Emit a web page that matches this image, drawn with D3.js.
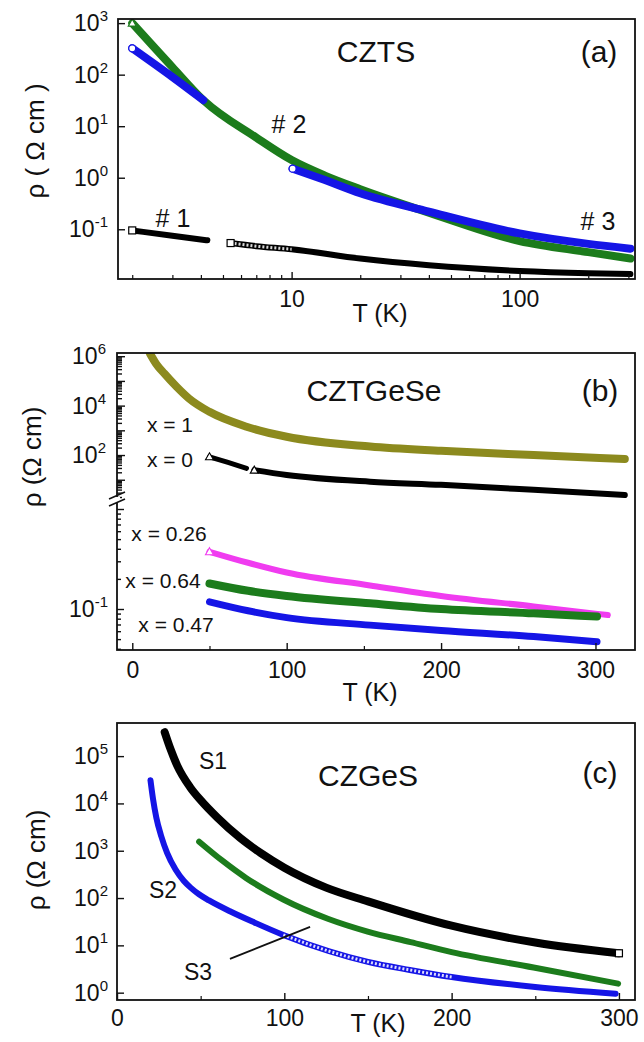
<!DOCTYPE html>
<html>
<head>
<meta charset="utf-8">
<script src="https://d3js.org/d3.v7.min.js"></script>
<style>
body { margin: 0; background: #fff; }
text { font-family: Arial, "Liberation Sans", sans-serif; fill: #111; }
</style>
</head>
<body>
<svg id="fig" width="644" height="1042"></svg>
<script>
// ---- panel (a) CZTS, log-log ----
var czts1a_T = [2.0, 3.0, 4.27];
var czts1a_rho = [0.095, 0.075, 0.061];
var czts1b_T = [5.4, 7, 10, 20, 40, 100, 200, 306];
var czts1b_rho = [0.054, 0.047, 0.041, 0.027, 0.020, 0.0155, 0.014, 0.0135];
var czts1b_open = [5.4, 10];
var czts2_T = [2.0, 3.0, 4.1, 7.0, 10, 14, 20, 40, 100, 200, 306];
var czts2_rho = [1000, 140, 32, 6, 2.2, 1.1, 0.6, 0.21, 0.059, 0.036, 0.027];
var czts3a_T = [2.0, 3.0, 4.1];
var czts3a_rho = [325, 90, 32];
var czts3b_T = [10.1, 14, 20, 40, 100, 200, 306];
var czts3b_rho = [1.5, 0.9, 0.5, 0.22, 0.083, 0.052, 0.042];
var ticksA_y = [-1, 0, 1, 2, 3];
var ticksA_x = [10, 100];
var minorA_x = [2, 3, 4, 5, 6, 7, 8, 9, 20, 30, 40, 50, 60, 70, 80, 90, 200, 300];

// ---- panel (b) CZTGeSe, broken log axis ----
var geseX1_T = [11.4, 15.4, 20.7, 28.7, 36.7, 50, 74, 100, 154, 200, 260, 319];
var geseX1_rho = [1.3e6, 5.0e5, 2.0e5, 5.8e4, 1.95e4, 5.6e3, 1.4e3, 550, 220, 148, 100, 69];
var geseX0a_T = [50, 62, 74];
var geseX0a_rho = [85, 50, 29];
var geseX0b_T = [79, 100, 154, 200, 260, 319];
var geseX0b_rho = [24.5, 15.5, 8.3, 6.2, 3.9, 2.4];
var geseX026_T = [50, 75, 100, 154, 200, 260, 308];
var geseX026_rho = [0.374, 0.29, 0.232, 0.172, 0.135, 0.106, 0.087];
var geseX064_T = [50, 75, 100, 154, 200, 260, 301];
var geseX064_rho = [0.18, 0.152, 0.135, 0.114, 0.10, 0.0905, 0.084];
var geseX047_T = [50, 75, 100, 154, 200, 260, 301];
var geseX047_rho = [0.118, 0.096, 0.082, 0.069, 0.061, 0.053, 0.047];
var ticksB_x = [0, 100, 200, 300];
var minorB_x = [50, 150, 250];
var ticksB_yUp = [2, 4, 6];
var ticksB_yLow = [-1];

// ---- panel (c) CZGeS ----
var czgesS1_T = [28.5, 32, 36, 43.7, 50, 60, 73.6, 86, 100, 125, 150, 200, 250, 300];
var czgesS1_rho = [3.2e5, 1.4e5, 6.3e4, 2.2e4, 1.17e4, 5.0e3, 1.86e3, 890, 437, 166, 85, 26, 11.5, 6.8];
var czgesS2_T = [20, 21.5, 23.5, 26.5, 30, 35, 40, 44, 49, 55, 67.5, 82.3, 99.4, 126.4, 150, 175, 200, 250, 298];
var czgesS2_rho = [3.1e4, 1.26e4, 5.0e3, 2.0e3, 890, 400, 229, 166, 120, 89, 52.5, 30.2, 16.6, 7.6, 4.47, 3.02, 2.14, 1.32, 0.95];
var czgesS2_open = [95, 215];
var czgesS3_T = [49.1, 62.6, 77.3, 99.4, 126.4, 149.8, 175.5, 200, 249, 299.5];
var czgesS3_rho = [1550, 630, 263, 93, 36, 19.5, 11.7, 7.2, 3.4, 1.55];
var ticksC_x = [0, 100, 200, 300];
var minorC_x = [50, 150, 250];
var ticksC_y = [0, 1, 2, 3, 4, 5];

var green = "#1c7c1c", blue = "#1515e6", olive = "#8c8a1e", magenta = "#f03cf0";

var svg = d3.select("#fig");
svg.append("rect").attr("width", 644).attr("height", 1042).attr("fill", "#fff");

function pairs(T, r) { return d3.zip(T, r); }

function drawSeries(g, x, y, data, color, width) {
  var line = d3.line()
      .x(function(d){ return x(d[0]); })
      .y(function(d){ return y(d[1]); })
      .curve(d3.curveMonotoneX);
  return g.append("path")
    .datum(data)
    .attr("d", line)
    .attr("fill", "none")
    .attr("stroke", color)
    .attr("stroke-width", width)
    .attr("stroke-linecap", "round");
}

// hollow-marker stretch: dashed white core over a part of a series
function hollow(g, x, y, data, range, width) {
  var sub = data.filter(function(d){ return d[0] >= range[0] && d[0] <= range[1]; });
  drawSeries(g, x, y, sub, "#fff", width)
    .attr("stroke-linecap", "butt")
    .attr("stroke-dasharray", "2,2")
    .attr("opacity", 0.85);
}

function marker(g, px, py, shape, color) {
  if (shape == "circle") {
    g.append("circle").attr("cx", px).attr("cy", py).attr("r", 3.5)
      .attr("fill", "#fff").attr("stroke", color).attr("stroke-width", 1.3);
  } else if (shape == "square") {
    g.append("rect").attr("x", px - 3.5).attr("y", py - 3.5).attr("width", 7).attr("height", 7)
      .attr("fill", "#fff").attr("stroke", color).attr("stroke-width", 1.2);
  } else {
    g.append("path").attr("d", "M" + px + "," + (py - 4) + "L" + (px + 4) + "," + (py + 3) + "L" + (px - 4) + "," + (py + 3) + "Z")
      .attr("fill", "#fff").attr("stroke", color).attr("stroke-width", 1.1);
  }
}

function yLabel10(g, xPos, yPos, exp) {
  var t = g.append("text")
    .attr("x", xPos)
    .attr("y", yPos + 8)
    .attr("text-anchor", "end")
    .style("font-size", "23px");
  t.append("tspan").text("10");
  t.append("tspan").attr("dy", -10).style("font-size", "15px").text(exp);
}

function frame(g, box) {
  g.append("rect")
    .attr("x", box.left).attr("y", box.top)
    .attr("width", box.right - box.left).attr("height", box.bottom - box.top)
    .attr("fill", "none").attr("stroke", "#111").attr("stroke-width", 1.8);
}

function xAxis(g, x, box, major, minor, fmt, pad) {
  var ax = g.append("g").attr("transform", "translate(0," + box.bottom + ")")
    .call(d3.axisBottom(x).tickValues(major).tickSize(-7).tickPadding(pad).tickFormat(fmt));
  ax.select(".domain").remove();
  ax.selectAll("line").attr("stroke", "#111").attr("stroke-width", 1.4);
  ax.selectAll("text").style("font-size", "23px").style("font-family", "Arial, 'Liberation Sans', sans-serif").attr("fill", "#111");
  var mn = g.append("g").attr("transform", "translate(0," + box.bottom + ")")
    .call(d3.axisBottom(x).tickValues(minor).tickSize(-4).tickFormat(""));
  mn.select(".domain").remove();
  mn.selectAll("line").attr("stroke", "#111").attr("stroke-width", 1.2);
}

function yTicks(g, y, box, values, size) {
  var ax = g.append("g").attr("transform", "translate(" + box.left + ",0)")
    .call(d3.axisLeft(y).tickValues(values).tickSize(-size).tickFormat(""));
  ax.select(".domain").remove();
  ax.selectAll("line").attr("stroke", "#111").attr("stroke-width", 1.4);
}

function clip(id, box) {
  svg.append("clipPath").attr("id", id).append("rect")
    .attr("x", box.left).attr("y", box.top)
    .attr("width", box.right - box.left).attr("height", box.bottom - box.top);
}

function rotLabel(text, xPos, yPos) {
  svg.append("text")
    .attr("transform", "translate(" + xPos + "," + yPos + ") rotate(-90)")
    .attr("text-anchor", "middle")
    .style("font-size", "26px")
    .text(text);
}

function label(text, xPos, yPos, size) {
  svg.append("text").attr("x", xPos).attr("y", yPos)
    .attr("text-anchor", "middle").style("font-size", size + "px").text(text);
}

// ================= panel (a) =================
var boxA = {left: 118, right: 635, top: 19, bottom: 279};
var xA = d3.scaleLog().domain([Math.pow(10, 0.2386), Math.pow(10, 2.506)]).range([boxA.left, boxA.right]);
var yA = d3.scaleLog().domain([Math.pow(10, -1.965), Math.pow(10, 3.08)]).range([boxA.bottom, boxA.top]);
clip("clipA", boxA);
var gA = svg.append("g");
var plotA = gA.append("g").attr("clip-path", "url(#clipA)");

drawSeries(plotA, xA, yA, pairs(czts1a_T, czts1a_rho), "#000", 6);
drawSeries(plotA, xA, yA, pairs(czts1b_T, czts1b_rho), "#000", 6);
hollow(plotA, xA, yA, pairs(czts1b_T, czts1b_rho), czts1b_open, 3);
drawSeries(plotA, xA, yA, pairs(czts2_T, czts2_rho), green, 8);
drawSeries(plotA, xA, yA, pairs(czts3a_T, czts3a_rho), blue, 8);
drawSeries(plotA, xA, yA, pairs(czts3b_T, czts3b_rho), blue, 8);
marker(plotA, xA(czts1a_T[0]), yA(czts1a_rho[0]), "square", "#000");
marker(plotA, xA(czts1b_T[0]), yA(czts1b_rho[0]), "square", "#000");
marker(plotA, xA(czts2_T[0]), yA(czts2_rho[0]), "triangle", green);
marker(plotA, xA(czts3a_T[0]), yA(czts3a_rho[0]), "circle", blue);
marker(plotA, xA(czts3b_T[0]), yA(czts3b_rho[0]), "circle", blue);

frame(gA, boxA);
xAxis(gA, xA, boxA, ticksA_x, minorA_x, d3.format("d"), 12);
yTicks(gA, yA, boxA, ticksA_y.map(function(e){ return Math.pow(10, e); }), 7);
ticksA_y.forEach(function(e){ yLabel10(gA, 108, yA(Math.pow(10, e)), e); });

label("CZTS", 376, 62, 30);
label("(a)", 599, 62, 30);
label("# 2", 289, 133, 25);
label("# 1", 173, 227, 25);
label("# 3", 598, 230, 25);
label("T (K)", 380, 322, 25);
rotLabel("\u03C1 ( \u03A9 cm )", 44, 141);

// ================= panel (b) =================
var boxB = {left: 117, right: 635, top: 353, bottom: 650};
var breakY = 500;
var xB = d3.scaleLinear().domain([-9.9, 325.6]).range([boxB.left, boxB.right]);
var yBup = d3.scaleLog().domain([Math.pow(10, 0.18), Math.pow(10, 6.13)]).range([breakY, boxB.top]);
var yBlow = d3.scaleLog().domain([Math.pow(10, -1.41), Math.pow(10, 0.09)]).range([boxB.bottom, breakY]);
clip("clipB", boxB);
var gB = svg.append("g");
var plotB = gB.append("g").attr("clip-path", "url(#clipB)");

drawSeries(plotB, xB, yBup, pairs(geseX1_T, geseX1_rho), olive, 8);
drawSeries(plotB, xB, yBup, pairs(geseX0a_T, geseX0a_rho), "#000", 5);
drawSeries(plotB, xB, yBup, pairs(geseX0b_T, geseX0b_rho), "#000", 6);
drawSeries(plotB, xB, yBlow, pairs(geseX026_T, geseX026_rho), magenta, 6);
drawSeries(plotB, xB, yBlow, pairs(geseX064_T, geseX064_rho), green, 8);
drawSeries(plotB, xB, yBlow, pairs(geseX047_T, geseX047_rho), blue, 7);
marker(plotB, xB(geseX0a_T[0]), yBup(geseX0a_rho[0]), "triangle", "#000");
marker(plotB, xB(geseX0b_T[0]), yBup(geseX0b_rho[0]), "triangle", "#000");
marker(plotB, xB(geseX026_T[0]), yBlow(geseX026_rho[0]), "triangle", magenta);

frame(gB, boxB);
xAxis(gB, xB, boxB, ticksB_x, minorB_x, d3.format("d"), 12);

// upper part ticks: every decade plus minor
var upMajor = [], upMinor = [];
d3.range(0, 7).forEach(function(e){
  upMajor.push(Math.pow(10, e));
  d3.range(2, 10).forEach(function(m){ upMinor.push(m * Math.pow(10, e)); });
});
upMajor = upMajor.filter(function(v){ return v >= yBup.domain()[0] && v <= yBup.domain()[1]; });
upMinor = upMinor.filter(function(v){ return v >= yBup.domain()[0] && v <= yBup.domain()[1]; });
yTicks(gB, yBup, boxB, upMajor, 8);
yTicks(gB, yBup, boxB, upMinor, 5);
var lowMajor = [0.1, 1], lowMinor = [];
[0.01, 0.1].forEach(function(b){ d3.range(2, 10).forEach(function(m){ lowMinor.push(m * b); }); });
lowMinor = lowMinor.filter(function(v){ return v >= yBlow.domain()[0] && v <= yBlow.domain()[1]; });
yTicks(gB, yBlow, boxB, lowMajor, 7);
yTicks(gB, yBlow, boxB, lowMinor, 4);
ticksB_yUp.forEach(function(e){ yLabel10(gB, 106, yBup(Math.pow(10, e)), e); });
ticksB_yLow.forEach(function(e){ yLabel10(gB, 108, yBlow(Math.pow(10, e)), e); });

// axis break
gB.append("rect").attr("x", boxB.left - 3).attr("y", breakY - 3).attr("width", 6).attr("height", 6).attr("fill", "#fff");
gB.append("line").attr("x1", boxB.left - 8).attr("y1", breakY - 1).attr("x2", boxB.left + 8).attr("y2", breakY - 8)
  .attr("stroke", "#111").attr("stroke-width", 1.6);
gB.append("line").attr("x1", boxB.left - 8).attr("y1", breakY + 6).attr("x2", boxB.left + 8).attr("y2", breakY - 1)
  .attr("stroke", "#111").attr("stroke-width", 1.6);

label("CZTGeSe", 374, 401, 30);
label("(b)", 600, 401, 30);
label("x = 1", 170, 432, 21);
label("x = 0", 170, 467, 21);
label("x = 0.26", 169, 541, 21);
label("x = 0.64", 163, 588, 21);
label("x = 0.47", 176, 632, 21);
label("T (K)", 370, 701, 25);
rotLabel("\u03C1 (\u03A9 cm)", 41, 457);

// ================= panel (c) =================
var boxC = {left: 117, right: 635, top: 723, bottom: 1000};
var xC = d3.scaleLinear().domain([0, 309.6]).range([boxC.left, boxC.right]);
var yC = d3.scaleLog().domain([Math.pow(10, -0.155), Math.pow(10, 5.70)]).range([boxC.bottom, boxC.top]);
clip("clipC", boxC);
var gC = svg.append("g");
var plotC = gC.append("g").attr("clip-path", "url(#clipC)");

drawSeries(plotC, xC, yC, pairs(czgesS1_T, czgesS1_rho), "#000", 8);
drawSeries(plotC, xC, yC, pairs(czgesS3_T, czgesS3_rho), green, 6);
drawSeries(plotC, xC, yC, pairs(czgesS2_T, czgesS2_rho), blue, 6);
hollow(plotC, xC, yC, pairs(czgesS2_T, czgesS2_rho), czgesS2_open, 3);
marker(plotC, xC(czgesS1_T[czgesS1_T.length - 1]), yC(czgesS1_rho[czgesS1_rho.length - 1]), "square", "#000");

frame(gC, boxC);
xAxis(gC, xC, boxC, ticksC_x, minorC_x, d3.format("d"), 10);
yTicks(gC, yC, boxC, ticksC_y.map(function(e){ return Math.pow(10, e); }), 7);
ticksC_y.forEach(function(e){ yLabel10(gC, 108, yC(Math.pow(10, e)), e); });

// S3 pointer
gC.append("line")
  .attr("x1", xC(67.5)).attr("y1", yC(5.2))
  .attr("x2", xC(115.4)).attr("y2", yC(24.5))
  .attr("stroke", "#111").attr("stroke-width", 1.8);

label("CZGeS", 368, 786, 30);
label("(c)", 600, 783, 30);
label("S1", 213, 769, 23);
label("S2", 163, 898, 23);
label("S3", 198, 980, 23);
label("T (K)", 378, 1032, 25);
rotLabel("\u03C1 (\u03A9 cm)", 45, 860);
</script>
</body>
</html>
